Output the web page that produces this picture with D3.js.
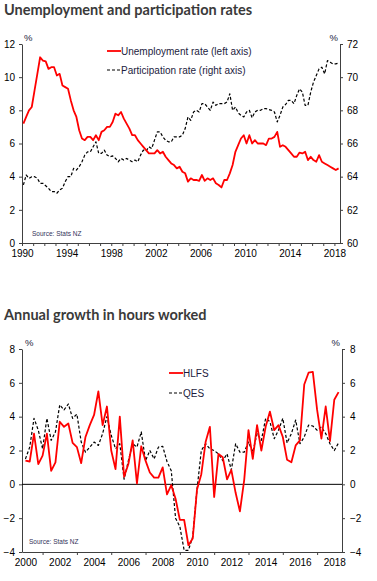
<!DOCTYPE html>
<html lang="en">
<head>
<meta charset="UTF-8">
<title>Unemployment and participation rates / Annual growth in hours worked</title>
<script src="https://d3js.org/d3.v7.min.js"></script>
<style>
    body { margin: 0; background: #fff; }
    svg { display: block; }
    .title { font-family: Lato, "Open Sans", sans-serif; font-weight: 700; font-size: 14.5px; fill: #3a3a3a; }
    .axis text { font-family: "Liberation Sans", Arial, sans-serif; font-size: 10px; fill: #000; }
    .axis path, .axis line { stroke: #404040; }
    .unit { font-family: "Liberation Sans", Arial, sans-serif; font-size: 9.5px; fill: #1c1c40; }
    .legend text { font-family: "Liberation Sans", Arial, sans-serif; font-size: 10px; fill: #1c1c40; }
    .source { font-family: "Liberation Sans", Arial, sans-serif; font-size: 6.5px; fill: #33335a; }
</style>
</head>
<body>
<svg width="377" height="581"></svg>
<script>
// ---- chart 1 data: quarterly, 1990 Q1 to 2018 Q2 ----
const rateStart = 1990;
const unemploymentRate = [
    7.2, 7.6, 8.0, 8.2,   9.2, 10.2, 11.2, 11.0,   10.95, 10.5, 10.6, 10.6,   10.1, 10.2, 9.5, 9.4,
    9.3, 8.6, 8.0, 7.6,   6.8, 6.3, 6.2, 6.4,   6.4, 6.2, 6.5, 6.2,   6.7, 6.8, 7.0, 7.0,
    7.3, 7.8, 7.7, 7.9,   7.5, 7.2, 6.9, 6.5,   6.5, 6.2, 6.0, 5.8,   5.6, 5.4, 5.4, 5.4,
    5.6, 5.4, 5.5, 5.2,   5.0, 4.8, 4.7, 4.5,   4.6, 4.3, 4.2, 3.7,   3.9, 3.8, 3.8, 3.75,
    4.1, 3.75, 3.9, 3.8,   3.9, 3.6, 3.5, 3.35,   3.8, 3.8, 4.2, 4.7,   5.5, 5.9, 6.3, 6.5,
    6.0, 6.5, 6.0, 6.2,   6.0, 6.0, 6.0, 5.9,   6.3, 6.3, 6.4, 6.7,   5.8, 5.9, 5.8, 5.6,
    5.4, 5.2, 5.2, 5.45,   5.4, 5.5, 5.0, 5.2,   5.0, 4.9, 5.3, 4.9,   4.8, 4.7, 4.6, 4.5,
    4.4, 4.5
];
const participationRate = [
    63.5, 64.1, 63.9, 64.0,   64.0, 63.9, 63.6, 63.6,   63.45, 63.3, 63.1, 63.1,   63.0, 63.2, 63.3, 63.7,
    64.0, 64.0, 64.5, 64.4,   64.6, 64.9, 65.3, 65.5,   65.5, 65.8, 66.1, 65.4,   65.4, 65.6, 65.3, 65.2,
    65.25, 65.1, 64.9, 65.1,   65.0, 65.1, 65.0, 64.9,   65.0, 64.9, 65.3, 65.6,   65.55, 65.8, 65.7, 66.2,
    66.7, 66.7, 66.4, 66.2,   66.1, 66.1, 66.4, 66.4,   66.4, 66.5, 66.9, 67.6,   67.4, 67.9, 68.0, 67.9,
    68.4, 68.4, 68.2, 68.0,   68.5, 68.3, 68.4, 68.4,   68.4, 68.5, 69.0, 68.0,   68.2, 67.85, 67.7, 67.6,
    67.9, 68.0, 67.55, 67.9,   68.0, 68.0, 68.1, 68.1,   68.05, 68.0, 67.9, 67.3,   67.7, 68.2, 68.35, 68.6,
    68.6, 68.4, 68.9, 69.3,   69.1, 68.3, 68.3, 69.1,   69.7, 70.1, 70.5, 70.6,   70.2, 71.0, 70.9, 70.8,
    70.8, 70.85
];
const rateYearLabels = [1990, 1994, 1998, 2002, 2006, 2010, 2014, 2018];
const rateLeftTicks = [0, 2, 4, 6, 8, 10, 12];
const rateRightTicks = [60, 62, 64, 66, 68, 70, 72];

// ---- chart 2 data: annual % change, quarterly, 2000 Q1 to 2018 Q2 ----
const hoursStart = 2000;
const hlfs = [
    1.4, 1.35, 3.0, 1.2,   1.7, 3.0, 0.8, 1.3,   3.7, 3.4, 3.6, 2.45,   2.2, 1.25, 2.8, 3.5,
    4.1, 5.5, 3.5, 4.6,   2.0, 0.9, 4.0, 0.45,   1.2, 2.6, 0.05, 2.25,   1.4, 0.7, 0.4, 0.4,
    1.0, -0.6, -0.05, -0.85,   -2.1, -2.1, -3.6, -3.2,   -0.3, 0.6, 2.5, 3.4,   -0.75, 1.8, 1.6, 0.3,
    0.85, -0.5, -1.6, 0.25,   3.2, 1.5, 3.5, 2.0,   3.4, 4.3, 3.2, 3.5,   2.8, 1.45, 1.3, 2.3,
    2.6, 5.9, 6.6, 6.65,   4.4, 2.7, 4.6, 2.55,   5.0, 5.45
];
const qes = [
    1.5, 2.2, 3.9, 3.2,   2.1, 3.9, 2.6, 3.1,   4.7, 4.4, 4.75, 3.9,   4.15, 2.5, 1.9, 2.2,
    2.5, 2.3, 3.0, 4.0,   2.9, 2.1, 2.4, 0.3,   1.4, 2.4, 2.2, 3.1,   1.4, 2.0, 1.5, 2.2,
    2.25, 1.35, 0.8, -2.0,   -2.5, -3.9, -3.9, -3.1,   -0.3, 2.0, 2.4, 2.1,   2.0, 1.8, 1.4, 1.8,
    0.85, 2.4, 1.9, 1.9,   2.5, 1.9, 3.0, 2.6,   3.9, 3.7, 2.7, 3.2,   3.9, 2.45, 3.0, 3.8,
    2.4, 2.8, 3.5, 3.45,   3.2, 3.4, 3.0, 2.4,   2.0, 2.45
];
const hoursYearLabels = [2000, 2002, 2004, 2006, 2008, 2010, 2012, 2014, 2016, 2018];
const hoursYearTicks = [2001, 2003, 2005, 2007, 2009, 2011, 2013, 2015, 2017];
const hoursTicks = [-4, -2, 0, 2, 4, 6, 8];

const RED = "#ff0000";
const svg = d3.select("svg");

function toPoints(values, start, offset) {
    return values.map((v, i) => ({ t: start + offset + i * 0.25, v: v }));
}

function drawLine(g, data, x, y, color, dashed) {
    g.append("path")
        .datum(data)
        .attr("fill", "none")
        .attr("stroke", color)
        .attr("stroke-width", dashed ? 1.2 : 1.8)
        .attr("stroke-dasharray", dashed ? "3,2" : null)
        .attr("stroke-linejoin", "round")
        .attr("d", d3.line().x(d => x(d.t)).y(d => y(d.v)));
}

function legendRow(g, x0, y0, label, color, dashed) {
    const row = g.append("g").attr("transform", `translate(${x0},${y0})`);
    row.append("line")
        .attr("x1", 0).attr("x2", 14)
        .attr("stroke", color)
        .attr("stroke-width", dashed ? 1.2 : 1.8)
        .attr("stroke-dasharray", dashed ? "3,2" : null);
    row.append("text").attr("x", 14).attr("dy", "0.35em").text(label);
}

// ================= Chart 1 =================
svg.append("text").attr("class", "title").attr("x", 4).attr("y", 15)
    .text("Unemployment and participation rates");

const x1 = d3.scaleLinear().domain([1990, 2018.5]).range([22, 340]);
const yL = d3.scaleLinear().domain([0, 12]).range([243, 44]);
const yR = d3.scaleLinear().domain([60, 72]).range([243, 44]);

svg.append("g").attr("class", "axis")
    .attr("transform", "translate(0,243)")
    .call(d3.axisBottom(x1).tickValues(d3.range(1990, 2019))
        .tickFormat(d => rateYearLabels.includes(d) ? d : "")
        .tickSize(3).tickPadding(4).tickSizeOuter(0));

svg.append("g").attr("class", "axis")
    .attr("transform", "translate(22,0)")
    .call(d3.axisLeft(yL).tickValues(rateLeftTicks).tickSize(3).tickPadding(4).tickSizeOuter(0));

svg.append("g").attr("class", "axis")
    .attr("transform", "translate(340,0)")
    .call(d3.axisRight(yR).tickValues(rateRightTicks).tickSize(3).tickPadding(4).tickSizeOuter(0));

svg.append("text").attr("class", "unit").attr("x", 24).attr("y", 41).text("%");
svg.append("text").attr("class", "unit").attr("x", 338).attr("y", 41)
    .attr("text-anchor", "end").text("%");

const g1 = svg.append("g");
drawLine(g1, toPoints(participationRate, rateStart, 0.125), x1, yR, "#000", true);
drawLine(g1, toPoints(unemploymentRate, rateStart, 0.125), x1, yL, RED, false);

const leg1 = svg.append("g").attr("class", "legend");
legendRow(leg1, 107, 51, "Unemployment rate (left axis)", RED, false);
legendRow(leg1, 107, 70, "Participation rate (right axis)", "#000", true);

svg.append("text").attr("class", "source").attr("x", 32).attr("y", 236).text("Source: Stats NZ");

// ================= Chart 2 =================
svg.append("text").attr("class", "title").attr("x", 4).attr("y", 320)
    .text("Annual growth in hours worked");

const x2 = d3.scaleLinear().domain([1999.8, 2018.45]).range([22, 342]);
const y2 = d3.scaleLinear().domain([-4, 8]).range([552, 349]);

svg.append("g").attr("class", "axis")
    .attr("transform", "translate(0,552)")
    .call(d3.axisBottom(x2).tickValues(hoursYearTicks).tickFormat("").tickSize(3).tickSizeOuter(0));

svg.append("g").attr("class", "axis")
    .attr("transform", "translate(0,552)")
    .call(d3.axisBottom(x2).tickValues(hoursYearLabels).tickFormat(d3.format("d"))
        .tickSize(0).tickPadding(7).tickSizeOuter(0))
    .call(g => g.select(".domain").remove());

svg.append("g").attr("class", "axis")
    .attr("transform", "translate(22,0)")
    .call(d3.axisLeft(y2).tickValues(hoursTicks).tickSize(3).tickPadding(4).tickSizeOuter(0));

svg.append("g").attr("class", "axis")
    .attr("transform", "translate(342,0)")
    .call(d3.axisRight(y2).tickValues(hoursTicks).tickSize(3).tickPadding(5).tickSizeOuter(0));

// zero line
svg.append("line")
    .attr("x1", x2.range()[0]).attr("x2", x2.range()[1])
    .attr("y1", y2(0)).attr("y2", y2(0))
    .attr("stroke", "#000").attr("stroke-width", 1);

svg.append("text").attr("class", "unit").attr("x", 25).attr("y", 346).text("%");
svg.append("text").attr("class", "unit").attr("x", 340).attr("y", 346)
    .attr("text-anchor", "end").text("%");

const g2 = svg.append("g");
drawLine(g2, toPoints(qes, hoursStart, 0), x2, y2, "#000", true);
drawLine(g2, toPoints(hlfs, hoursStart, 0), x2, y2, RED, false);

const leg2 = svg.append("g").attr("class", "legend");
legendRow(leg2, 169, 373, "HLFS", RED, false);
legendRow(leg2, 169, 393, "QES", "#000", true);

svg.append("text").attr("class", "source").attr("x", 29).attr("y", 544).text("Source: Stats NZ");
</script>
</body>
</html>
